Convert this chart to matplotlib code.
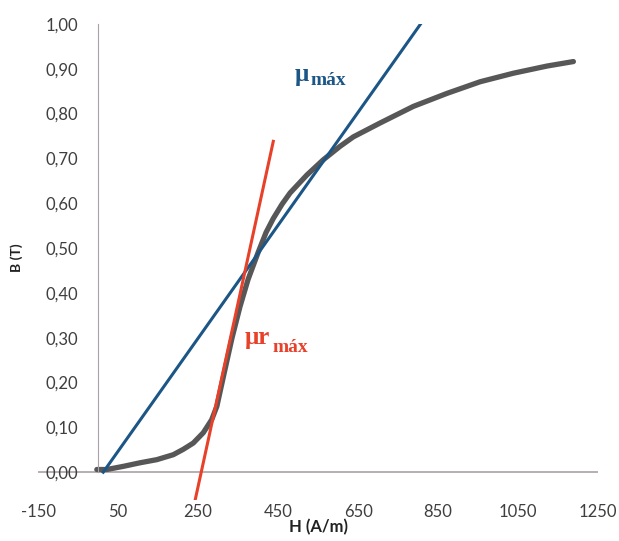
import numpy as np
import matplotlib
matplotlib.use("Agg")
import matplotlib.pyplot as plt

# B-H magnetisation curve
H = [-3, 22, 63, 105, 147, 188, 213, 238, 263, 284, 297, 315, 335, 355,
     375, 400, 420, 438, 460, 480, 522, 563, 605, 638, 705, 788, 872, 955,
     1038, 1122, 1188]
B = [0.006, 0.006, 0.013, 0.021, 0.028, 0.039, 0.051, 0.065, 0.088, 0.117,
     0.147, 0.22, 0.30, 0.37, 0.43, 0.49, 0.535, 0.566, 0.598, 0.623,
     0.663, 0.697, 0.727, 0.748, 0.779, 0.816, 0.845, 0.871, 0.890, 0.906,
     0.916]

# tangent lines
mu_max_H = [13, 811]
mu_max_B = [0.0, 1.006]
mur_max_H = [243, 438]
mur_max_B = [-0.061, 0.738]

xticks = [-150, 50, 250, 450, 650, 850, 1050, 1250]
yticks = [0.0, 0.1, 0.2, 0.3, 0.4, 0.5, 0.6, 0.7, 0.8, 0.9, 1.0]

blue = "#1c5686"
red = "#e8412a"
grey = "#575757"
axis_col = "#aaa2a6"
txt_col = "#3f3f3f"

plt.rcParams['font.family'] = ['Lato', 'DejaVu Sans']

fig = plt.figure(figsize=(6.19, 5.41), dpi=100)
ax = fig.add_axes([0.0614, 0.0758, 0.905, 0.880])

ax.plot(H, B, color=grey, linewidth=3.8, solid_capstyle='round',
        solid_joinstyle='round', zorder=2)
ax.plot(mu_max_H, mu_max_B, color=blue, linewidth=2.2, zorder=3)
ax.plot(mur_max_H, mur_max_B, color=red, linewidth=2.2, zorder=4)

ax.set_xlim(-150, 1250)
ax.set_ylim(-0.062, 1.0)

# axes like Excel: vertical axis at H=0, horizontal line at B=0
for s in ['top', 'right', 'bottom']:
    ax.spines[s].set_visible(False)
ax.spines['left'].set_position(('data', 0))
ax.spines['left'].set_bounds(0, 1.0)
ax.spines['left'].set_color(axis_col)
ax.axhline(0, color=axis_col, linewidth=1.2, zorder=1)

ax.set_xticks(xticks)
ax.set_xticklabels([str(v) for v in xticks])
ax.set_yticks(yticks)
ax.set_yticklabels([f"{v:.2f}".replace('.', ',') for v in yticks])
ax.tick_params(axis='y', length=0, pad=14.4, labelsize=12, labelcolor=txt_col)
ax.tick_params(axis='x', length=0, pad=3, labelsize=12, labelcolor=txt_col)

ax.set_xlabel("H (A/m)", fontsize=12, fontweight='bold', color='#222222')
ax.xaxis.set_label_coords(0.5, -0.040)
ax.set_ylabel("B (T)", fontsize=10, fontweight='bold', color='#222222')
ax.yaxis.set_label_coords(-0.027, 0.508)

serif = ['Liberation Serif', 'DejaVu Serif']
ax.text(492, 0.873, "μ", fontsize=18, fontweight='bold', family=serif,
        color=blue, va='baseline', ha='left')
ax.text(531, 0.864, "máx", fontsize=14, fontweight='bold', family=serif,
        color=blue, va='baseline', ha='left')
ax.text(367, 0.285, "μr", fontsize=18, fontweight='bold', family=serif,
        color=red, va='baseline', ha='left')
ax.text(437, 0.269, "máx", fontsize=14, fontweight='bold', family=serif,
        color=red, va='baseline', ha='left')

fig.savefig("out.png", dpi=100)
